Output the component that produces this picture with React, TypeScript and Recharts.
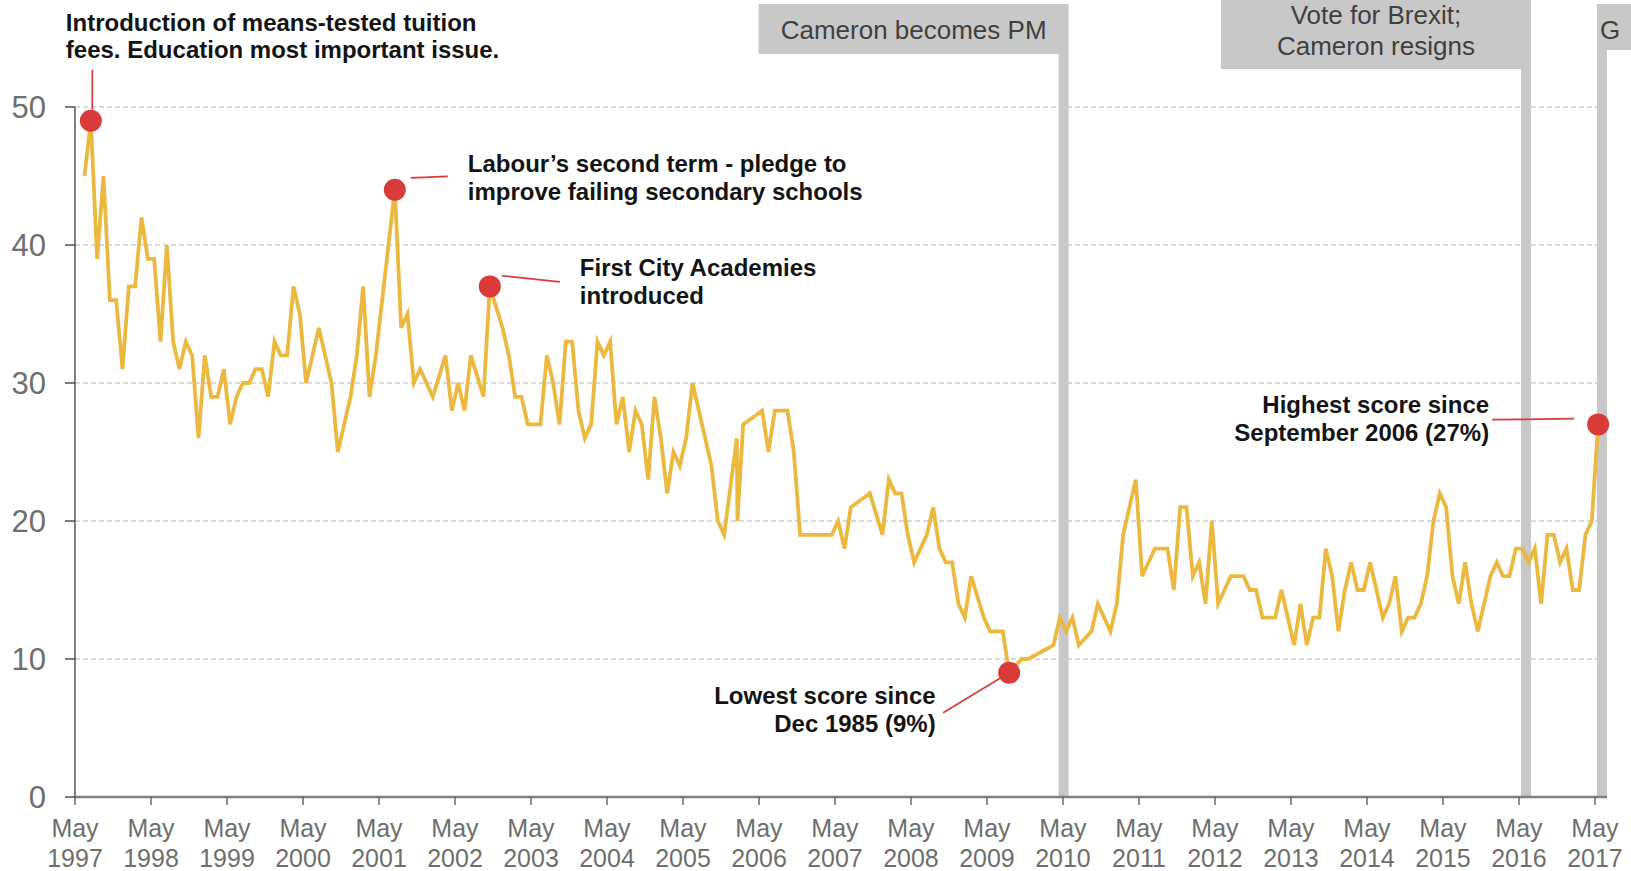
import React from "react";
import { LineChart, Line, XAxis, YAxis, CartesianGrid, ReferenceLine } from "recharts";

// ---- data (months counted from May 1997; points sit mid-month) ----
const monthIndex = [
  1, 2, 3, 4, 5, 6, 7, 8, 9, 10, 11, 12, 13, 14, 15, 16, 17, 18, 19, 20,
  21, 22, 23, 24, 25, 26, 27, 28, 29, 30, 31, 32, 33, 34, 35, 36, 37, 38, 39, 40,
  41, 42, 43, 44, 45, 46, 47, 48, 49, 50, 51, 52, 53, 54, 55, 56, 58, 59, 60, 61,
  62, 64, 65, 67, 68, 69, 70, 71, 72, 73, 74, 75, 76, 77, 78, 79, 80, 81, 82, 83,
  84, 85, 86, 87, 88, 89, 90, 91, 92, 93, 94, 95, 96, 97, 98, 99, 100, 101, 102, 104,
  104.1, 105, 108, 109, 110, 111, 112, 113, 114, 115, 116, 117, 118, 119, 120, 121, 122, 125, 127, 128,
  129, 130, 131, 132, 133, 134, 135, 136, 137, 138, 139, 140, 141, 143, 144, 145, 146, 147, 149, 150,
  154, 155, 156, 157, 158, 160, 161, 163, 164, 165, 167, 168, 170, 171, 172, 173, 174, 175, 176, 177,
  178, 179, 180, 182, 183, 184, 185, 186, 187, 188, 189, 190, 192, 193, 194, 195, 196, 197, 198, 199,
  200, 201, 202, 203, 204, 206, 207, 208, 209, 210, 211, 212, 213, 214, 215, 216, 217, 218, 219, 220,
  221, 223, 224, 225, 226, 227, 228, 229, 230, 231, 232, 233, 234, 235, 236, 237, 238, 239, 240,
];
const educationScore = [
  45, 49, 39, 45, 36, 36, 31, 37, 37, 42, 39, 39, 33, 40, 33, 31, 33, 32, 26, 32,
  29, 29, 31, 27, 29, 30, 30, 31, 31, 29, 33, 32, 32, 37, 35, 30, 32, 34, 32, 30,
  25, 27, 29, 32, 37, 29, 32, 36, 40, 44, 34, 35, 30, 31, 30, 29, 32, 28, 30, 28,
  32, 29, 37, 34, 32, 29, 29, 27, 27, 27, 32, 30, 27, 33, 33, 28, 26, 27, 33, 32,
  33, 27, 29, 25, 28, 27, 23, 29, 26, 22, 25, 24, 26, 30, 28, 26, 24, 20, 19, 26,
  20, 27, 28, 25, 28, 28, 28, 25, 19, 19, 19, 19, 19, 19, 20, 18, 21, 22, 19, 23,
  22, 22, 19, 17, 18, 19, 21, 18, 17, 17, 14, 13, 16, 13, 12, 12, 12, 9, 10, 10,
  11, 13, 12, 13, 11, 12, 14, 12, 14, 19, 23, 16, 18, 18, 18, 15, 21, 21, 16, 17,
  14, 20, 14, 16, 16, 16, 15, 15, 13, 13, 13, 15, 11, 14, 11, 13, 13, 18, 16, 12,
  15, 17, 15, 15, 17, 13, 14, 16, 12, 13, 13, 14, 16, 20, 22, 21, 16, 14, 17, 14,
  12, 16, 17, 16, 16, 18, 18, 17, 18, 14, 19, 19, 17, 18, 15, 15, 19, 20, 27,
];
const highlightMonths = [2, 50, 65, 147, 240];
const annotationTexts = [
  ["Introduction of means-tested tuition", "fees. Education most important issue."],
  ["Labour\u2019s second term - pledge to", "improve failing secondary schools"],
  ["First City Academies", "introduced"],
  ["Lowest score since", "Dec 1985 (9%)"],
  ["Highest score since", "September 2006 (27%)"],
];
const eventMonths = [156.1, 229.1, 241.1];
const eventTexts = [["Cameron becomes PM"], ["Vote for Brexit;", "Cameron resigns"], ["G"]];
const tickMonths = [0, 12, 24, 36, 48, 60, 72, 84, 96, 108, 120, 132, 144, 156, 168, 180, 192, 204, 216, 228, 240];
const tickYears = [
  "1997", "1998", "1999", "2000", "2001", "2002", "2003", "2004", "2005", "2006", "2007",
  "2008", "2009", "2010", "2011", "2012", "2013", "2014", "2015", "2016", "2017",
];
const yTicks = [0, 10, 20, 30, 40, 50];

// ---- styling / layout ----
const FONT = "'Liberation Sans', Arial, Helvetica, sans-serif";
const RED = "#D93B3A";
const GOLD = "#EBB940";
const GRAY = "#C8C8C8";

// offsets relative to the highlighted point
const annotationLayout = [
  { dx: -25, dy: [-90, -62.5], anchor: "start", c: [1.5, -51, 1.5, -11] },
  { dx: 73, dy: [-17.5, 10], anchor: "start", c: [16, -12, 53, -13.5] },
  { dx: 90, dy: [-10, 18], anchor: "start", c: [12, -10.8, 70, -4.5] },
  { dx: -73.5, dy: [31, 59], anchor: "end", c: [-66, 40, 0, 0] },
  { dx: -109, dy: [-11.5, 17], anchor: "end", c: [-106, -4.7, -24, -5.7] },
];
// offsets relative to the event bar centre
const eventLayout = [
  { left: -305, right: 5, top: 4, bottom: 54, tx: -150, anchor: "middle", base: [38.5] },
  { left: -305, right: 5, top: 0, bottom: 69, tx: -150, anchor: "middle", base: [23.5, 54.5] },
  { left: -5, right: 250, top: 4, bottom: 50, tx: -2, anchor: "start", base: [38.5] },
];

const data = monthIndex.map((m, i) => ({ m, x: m + 0.5, v: educationScore[i] }));

const renderDot = (props: any) => {
  const { cx, cy, payload, index } = props;
  const ai = highlightMonths.indexOf(payload.m);
  if (ai < 0) return <g key={`d-${index}`} />;
  const L = annotationLayout[ai];
  const lines = annotationTexts[ai];
  return (
    <g key={`d-${index}`}>
      <line x1={cx + L.c[0]} y1={cy + L.c[1]} x2={cx + L.c[2]} y2={cy + L.c[3]} stroke={RED} strokeWidth={1.7} />
      <circle cx={cx} cy={cy} r={11} fill={RED} />
      <text fontFamily={FONT} fontSize={24} fontWeight="bold" fill="#141414" textAnchor={L.anchor as any}>
        {lines.map((t, j) => (
          <tspan key={j} x={cx + L.dx} y={cy + L.dy[j]}>
            {t}
          </tspan>
        ))}
      </text>
    </g>
  );
};

const EventLabel = (props: any) => {
  const { viewBox, idx } = props;
  const x = viewBox.x;
  const top = viewBox.y;
  const B = eventLayout[idx];
  return (
    <g>
      <rect x={x - 5} y={B.bottom} width={10} height={Math.max(0, top - B.bottom)} fill={GRAY} />
      <rect x={x + B.left} y={B.top} width={B.right - B.left} height={B.bottom - B.top} fill={GRAY} />
      <text fontFamily={FONT} fontSize={26} fill="#404040" textAnchor={B.anchor as any}>
        {eventTexts[idx].map((t, j) => (
          <tspan key={j} x={x + B.tx} y={B.base[j]}>
            {t}
          </tspan>
        ))}
      </text>
    </g>
  );
};

const XTick = (props: any) => {
  const { x, y, payload } = props;
  const i = tickMonths.indexOf(payload.value);
  return (
    <text fontFamily={FONT} fontSize={25} fill="#6E6E6E" textAnchor="middle">
      <tspan x={x} y={y + 30}>May</tspan>
      <tspan x={x} y={y + 59.5}>{tickYears[i]}</tspan>
    </text>
  );
};

export default function App() {
  return (
    <div style={{ width: 1631, height: 871, background: "#fff" }}>
      <style>{"body{margin:0;background:#fff}"}</style>
      <LineChart width={1631} height={871} data={data} margin={{ top: 107, right: 24, bottom: 0, left: 0 }}>
        <CartesianGrid vertical={false} stroke="#B4B4B4" strokeDasharray="5 3" strokeWidth={1.2} />
        <XAxis
          type="number"
          dataKey="x"
          domain={[0, 241.9]}
          ticks={tickMonths}
          interval={0}
          height={74}
          tickSize={8}
          axisLine={{ stroke: "#808080", strokeWidth: 2.5 }}
          tickLine={{ stroke: "#555", strokeWidth: 1.3 }}
          tick={<XTick />}
        />
        <YAxis
          type="number"
          domain={[0, 50]}
          ticks={yTicks}
          interval={0}
          width={75}
          tickSize={10}
          tickMargin={19}
          axisLine={{ stroke: "#808080", strokeWidth: 2 }}
          tickLine={{ stroke: "#333", strokeWidth: 1.3 }}
          tick={{ fontFamily: FONT, fontSize: 31, fill: "#6E6E6E" }}
        />
        {eventMonths.map((m, i) => (
          <ReferenceLine
            key={i}
            x={m}
            stroke={GRAY}
            strokeWidth={10}
            ifOverflow="visible"
            label={(p: any) => <EventLabel {...p} idx={i} />}
          />
        ))}
        <Line
          type="linear"
          dataKey="v"
          stroke={GOLD}
          strokeWidth={3.8}
          dot={renderDot}
          activeDot={false}
          isAnimationActive={false}
        />
      </LineChart>
    </div>
  );
}
